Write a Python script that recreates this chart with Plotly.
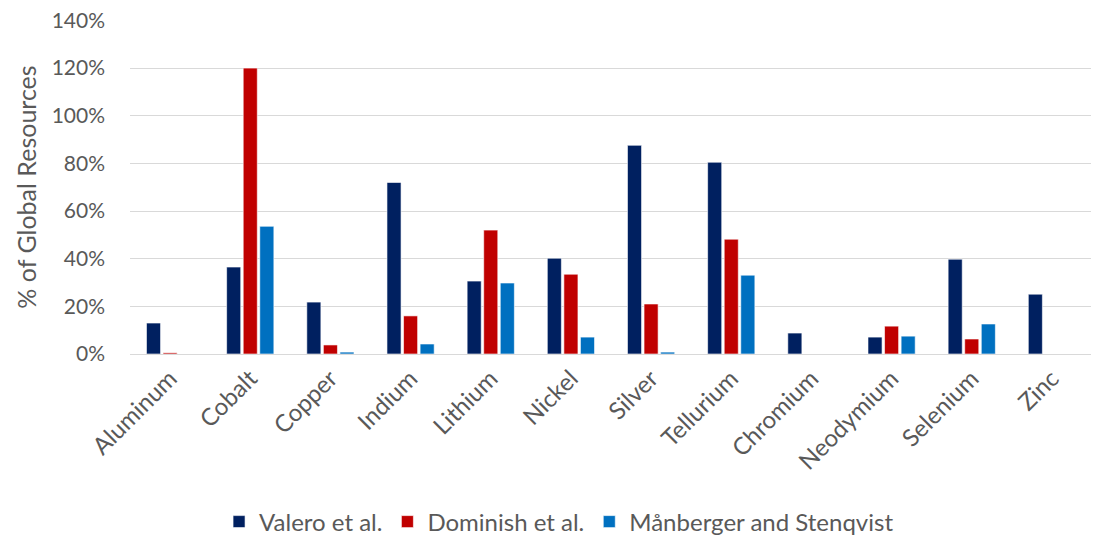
import plotly.graph_objects as go

categories = ["Aluminum", "Cobalt", "Copper", "Indium", "Lithium", "Nickel",
              "Silver", "Tellurium", "Chromium", "Neodymium", "Selenium", "Zinc"]
valero = [0.13, 0.365, 0.218, 0.72, 0.306, 0.402, 0.876, 0.805, 0.088, 0.071, 0.398, 0.251]
dominish = [0.005, 1.20, 0.038, 0.16, 0.52, 0.335, 0.21, 0.482, None, 0.117, 0.063, None]
manberger = [None, 0.536, 0.008, 0.042, 0.298, 0.071, 0.008, 0.331, None, 0.075, 0.126, None]
y_ticks = [0, 0.2, 0.4, 0.6, 0.8, 1.0, 1.2, 1.4]

FONT = "Lato"
GREY = "#595959"
fig = go.Figure()
for name, vals, color in [("Valero et al.", valero, "#002060"),
                          ("Dominish et al.", dominish, "#C00000"),
                          ("Månberger and Stenqvist", manberger, "#0070C0")]:
    fig.add_trace(go.Bar(x=categories, y=vals, name=name,
                         marker=dict(color=color, line=dict(color="white", width=0.6))))

fig.update_layout(
    width=1091, height=530,
    margin=dict(l=122, r=7, t=12, b=184, autoexpand=False),
    plot_bgcolor="white", paper_bgcolor="white",
    barmode="group", bargap=0.38, bargroupgap=0.15,
    font=dict(family=FONT, color=GREY, size=20),
    legend=dict(orientation="h", x=0.446, xanchor="center", y=-0.503, yanchor="middle",
                font=dict(size=24, color=GREY), itemwidth=30,
                traceorder="normal"),
    showlegend=True,
)
fig.update_yaxes(range=[0, 1.402], tickvals=y_ticks, tickformat=".0%", automargin=False,
                 ticklabeloverflow="allow",
                 gridcolor="#d9d9d9", gridwidth=1, zeroline=True, zerolinecolor="#d9d9d9",
                 zerolinewidth=1, ticks="", tickfont=dict(size=21, color=GREY),
                 ticklabelstandoff=24,
                 title=dict(text="% of Global Resources", font=dict(size=25, color=GREY), standoff=7),
                 showline=False)
fig.update_xaxes(tickangle=-45, tickfont=dict(size=24, color=GREY), showline=True, automargin=False,
                 linecolor="#d9d9d9", linewidth=1, ticks="")
fig.write_html("out.html")
